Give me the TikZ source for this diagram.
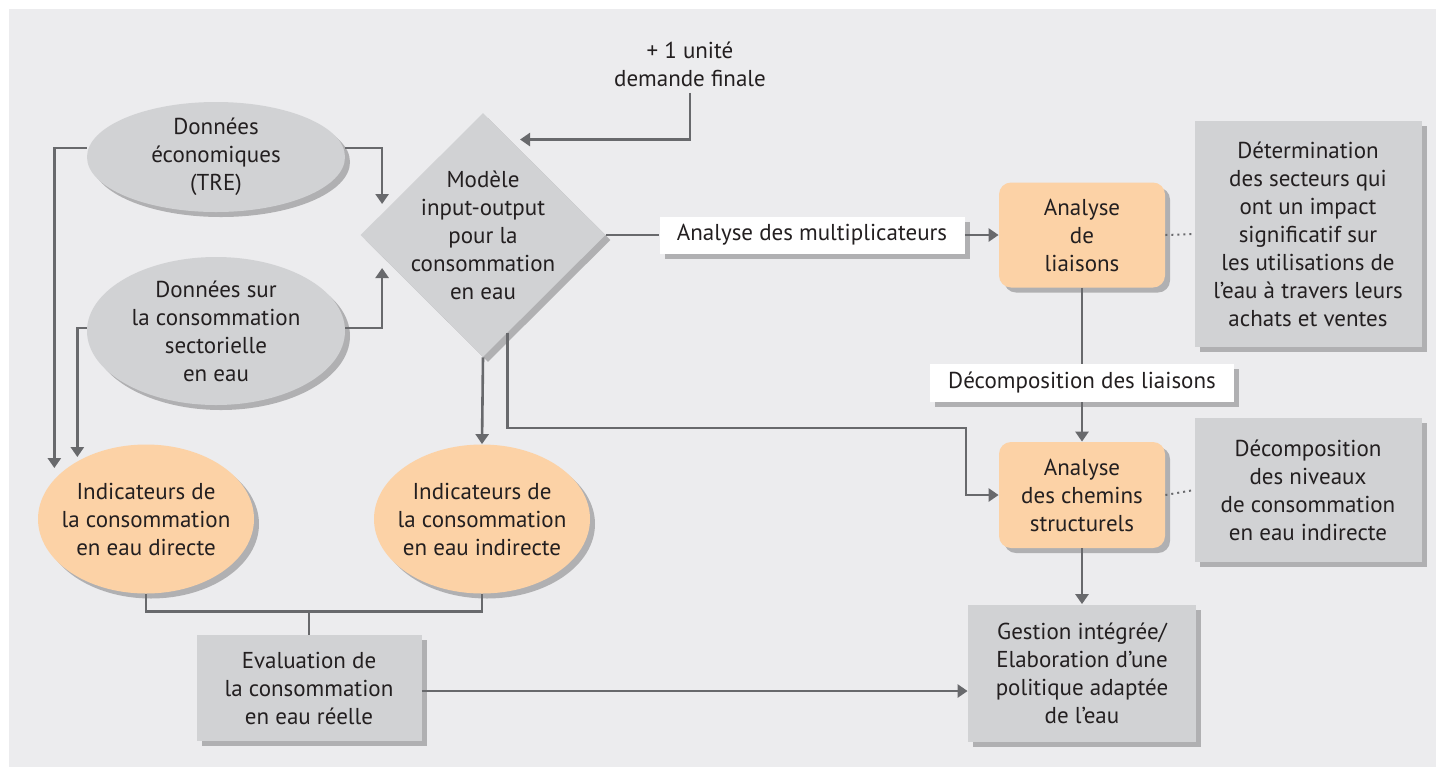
\documentclass[tikz,border=0pt]{standalone}
\usepackage{fontspec}
\setmainfont{PT Sans}
\usetikzlibrary{shapes.geometric,arrows.meta,shadows,calc}
\definecolor{bggray}{RGB}{236,236,238}
\definecolor{boxgray}{RGB}{209,210,212}
\definecolor{boxorange}{RGB}{252,210,166}
\definecolor{linegray}{RGB}{104,105,108}
\definecolor{txtgray}{RGB}{35,31,32}
\begin{document}
\begin{tikzpicture}[x=0.5pt,y=0.5pt,yscale=-1,xscale=1,
  every node/.style={text=txtgray,font=\fontsize{11.5}{14}\selectfont,align=center,inner sep=0pt},
  shade/.style={drop shadow={shadow xshift=2.5pt,shadow yshift=-2.5pt,fill=black,opacity=0.25}},
  grayoval/.style={ellipse,fill=boxgray,shade},
  orangeoval/.style={ellipse,fill=boxorange,shade},
  graybox/.style={rectangle,fill=boxgray,shade},
  orangebox/.style={rectangle,rounded corners=6pt,fill=boxorange,shade},
  whitetag/.style={rectangle,fill=white,shade},
  link/.style={draw=linegray,line width=1.3pt},
  arr/.style={link,-{Triangle[length=5pt,width=6.5pt]}}]
%uncomment if require: \path (0,767); %set diagram left start at 0, and has height of 767
\useasboundingbox (0,0) rectangle (1436,767);

%Shape: Rectangle [id:background]
\fill[bggray] (9,9) rectangle (1436,767);

%Shape: Ellipse [id:eco]
\node[grayoval,minimum width=129pt,minimum height=55pt] (eco) at (216,157) {Données\\économiques\\(TRE)};
%Shape: Ellipse [id:sect]
\node[grayoval,minimum width=129pt,minimum height=74pt] (sect) at (216,331) {Données sur\\la consommation\\sectorielle\\en eau};
%Shape: Diamond [id:mod]
\node[diamond,fill=boxgray,shade,minimum width=122.5pt,minimum height=122pt,
  label={[align=center]center:Modèle\\input-output\\pour la\\consommation\\en eau}] (mod) at (483,235) {};
% Text Node
\node (plus) at (690,64) {+ 1 unité\\demande finale};

%Shape: Ellipse [id:dir]
\node[orangeoval,minimum width=108pt,minimum height=74.5pt,
  label={[align=center]center:Indicateurs de\\la consommation\\en eau directe}] (dir) at (146,519) {};
%Shape: Ellipse [id:ind]
\node[orangeoval,minimum width=108pt,minimum height=74.5pt,
  label={[align=center]center:Indicateurs de\\la consommation\\en eau indirecte}] (ind) at (482,519) {};
%Shape: Rectangle [id:eval]
\node[graybox,minimum width=112.5pt,minimum height=53pt] (eval) at (309,688) {Evaluation de\\la consommation\\en eau réelle};

% Text Node
\node[whitetag,minimum width=152.5pt,minimum height=18.5pt] (mult) at (812,235) {Analyse des multiplicateurs};
%Shape: Rounded Rectangle [id:liai]
\node[orangebox,minimum width=83pt,minimum height=52.5pt] (liai) at (1082,235) {Analyse\\de\\liaisons};
%Shape: Rectangle [id:det]
\node[graybox,minimum width=113.5pt,minimum height=113pt] (det) at (1308,234) {Détermination\\des secteurs qui\\ont un impact\\significatif sur\\les utilisations de\\l’eau à travers leurs\\achats et ventes};
% Text Node
\node[whitetag,minimum width=152pt,minimum height=19pt] (dec) at (1082,383) {Décomposition des liaisons};
%Shape: Rounded Rectangle [id:chem]
\node[orangebox,minimum width=83pt,minimum height=53pt] (chem) at (1082,495) {Analyse\\des chemins\\structurels};
%Shape: Rectangle [id:niv]
\node[graybox,minimum width=113.5pt,minimum height=72pt] (niv) at (1308,490) {Décomposition\\des niveaux\\de consommation\\en eau indirecte};
%Shape: Rectangle [id:gest]
\node[graybox,minimum width=114pt,minimum height=68.5pt] (gest) at (1082,673) {Gestion intégrée/\\Elaboration d’une\\politique adaptée\\de l’eau};

%Straight Lines [id:plus-mod]
\draw[arr,shorten >=5pt] (plus.south) ++(0,6) |- ($(mod.north)!0.22!(mod.east)$);
%Straight Lines [id:eco-dir]
\draw[arr] ([yshift=-4.5pt]eco.west) -| ([xshift=-7.5pt,yshift=1pt]dir.north west);
%Straight Lines [id:sect-dir]
\draw[arr] ([yshift=-1.5pt]sect.west) -| ([xshift=4pt,yshift=-4.5pt]dir.north west);
%Straight Lines [id:eco-mod]
\draw[arr] ([yshift=-4.5pt]eco.east) -| ([xshift=11pt,yshift=-15.5pt]mod.west);
%Straight Lines [id:sect-mod]
\draw[arr] ([yshift=-1.5pt]sect.east) -| ([xshift=11pt,yshift=16.5pt]mod.west);
%Straight Lines [id:mod-ind]
\draw[arr] (mod.south) -- (ind.north);
%Straight Lines [id:mod-chem]
\coordinate (kink) at (966,428);
\draw[arr] ($(mod.south)!0.2!(mod.east)$) |- (kink) |- (chem.west);
%Straight Lines [id:mod-liai]
\draw[link] (mod.east) -- (mult.west);
\draw[arr] (mult.east) -- (liai.west);
%Straight Lines [id:liai-chem]
\draw[link] (liai.south) -- (dec.north);
\draw[arr] (dec.south) -- (chem.north);
\draw[arr] (chem.south) -- (gest.north);
%Dotted Lines
\draw[draw=linegray,line width=1pt,dotted] (liai.east) -- (det.west);
\draw[draw=linegray,line width=1pt,dotted] (chem.east) -- (niv.west);
%Straight Lines [id:ind-eval]
\draw[link] (dir.south) |- ([yshift=-11.5pt]eval.north) -| (ind.south);
\draw[link] (eval.north) -- ++(0,-23);
%Straight Lines [id:eval-gest]
\draw[arr] ([yshift=1.5pt]eval.east) -- ([yshift=1.5pt]eval.east -| gest.west);

\end{tikzpicture}
\end{document}
